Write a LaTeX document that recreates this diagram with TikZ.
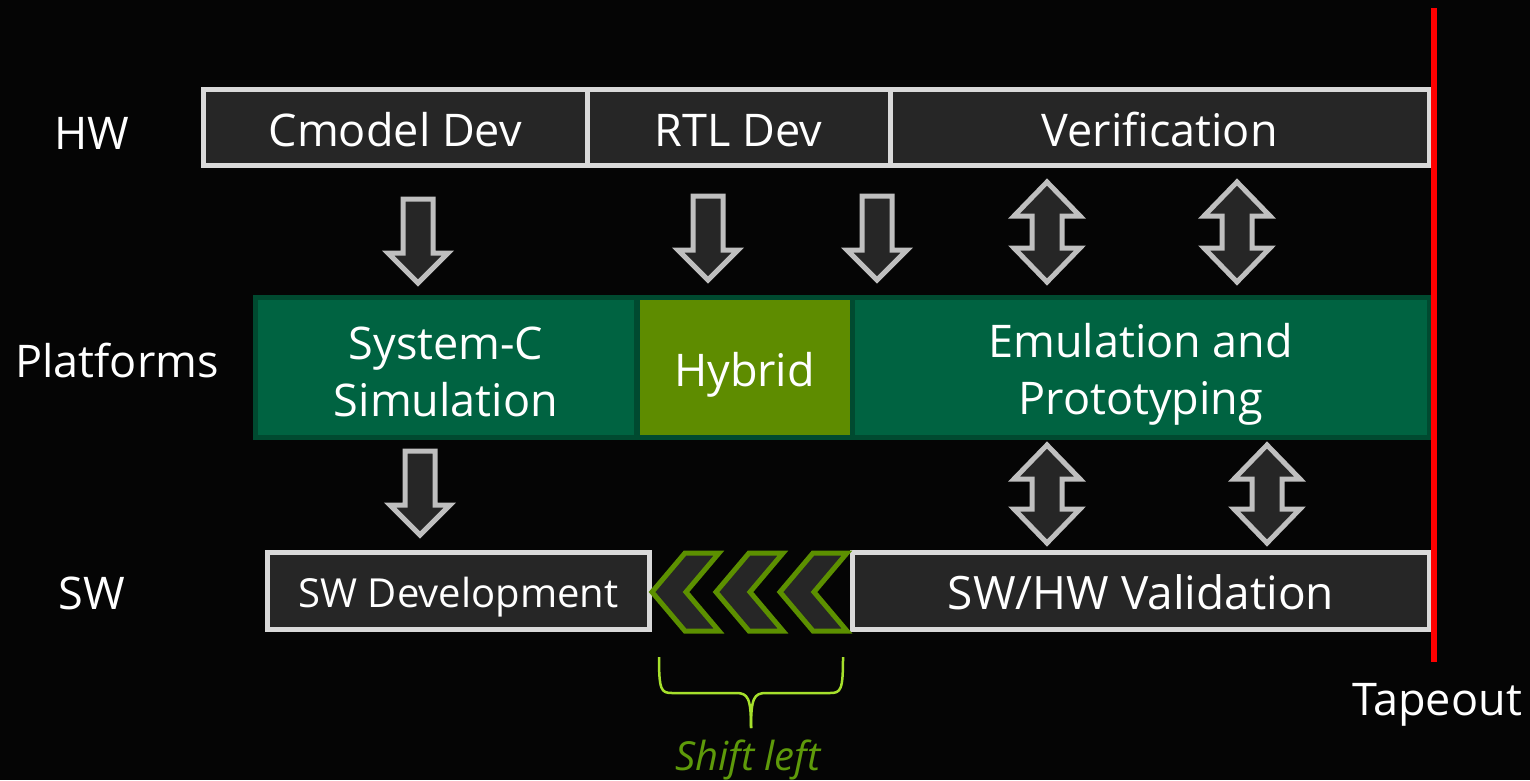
\documentclass[tikz,border=0pt]{standalone}
\usepackage{fontspec}
\setmainfont{Open Sans}
\definecolor{bgc}{HTML}{050505}
\definecolor{boxfill}{HTML}{262626}
\definecolor{boxline}{HTML}{D9D9D9}
\definecolor{arrline}{HTML}{BFBFBF}
\definecolor{platfill}{HTML}{006341}
\definecolor{platline}{HTML}{004A30}
\definecolor{hybfill}{HTML}{5E8C00}
\definecolor{chevline}{HTML}{5C9000}
\definecolor{bracec}{HTML}{A6E02C}
\definecolor{shiftc}{HTML}{5E9A0A}
\definecolor{tapered}{HTML}{FF0000}
\newcommand\bigtxt{\fontsize{45}{57}\selectfont}
\tikzset{
  lbl/.style={text=white, font=\bigtxt, inner sep=0pt},
  hwbox/.style={draw=boxline, fill=boxfill, line width=5pt, text=white, font=\bigtxt, minimum height=76pt, inner sep=0pt, text height=40pt, text depth=3pt},
  swbox/.style={hwbox, minimum height=77pt},
  platbox/.style={draw=platline, fill=platfill, line width=5pt, text=white, font=\bigtxt, minimum height=140pt, inner sep=0pt, align=center, text height=100pt, text depth=3pt},
  blk/.style={draw=arrline, fill=boxfill, line width=5pt, line join=miter},
  chev/.style={draw=chevline, fill=boxfill, line width=5pt, line join=miter},
  bracestyle/.style={draw=bracec, line width=2.5pt}
}
\newcommand\DnArrow[2]{\draw[blk, shift={(#1,#2)}] (-15,0) -- (15,0) -- (15,54) -- (30,54) -- (0,84) -- (-30,54) -- (-15,54) -- cycle;}
\newcommand\UdArrow[3]{\draw[blk, shift={(#1,#2)}] (0,0) -- (33,34) -- (15,34) -- (15,#3-34) -- (33,#3-34) -- (0,#3) -- (-33,#3-34) -- (-15,#3-34) -- (-15,34) -- (-33,34) -- cycle;}
\newcommand\Chev[2]{\draw[chev, shift={(#1,#2)}] (0,0) -- (33,-39) -- (67,-39) -- (34,0) -- (67,39) -- (33,39) -- cycle;}
\begin{document}
\begin{tikzpicture}[x=1pt, y=-1pt]
\fill[bgc] (0,0) rectangle (1530,780);
\useasboundingbox (0,0) rectangle (1530,780);

% row labels
\node[lbl] (hwl) at (92,133) {HW};
\node[lbl] (pll) at (117,360) {Platforms};
\node[lbl] (swl) at (92,593) {SW};

% HW bar
\node[hwbox, minimum width=383.5pt] (cm) at (395.25,127.5) {Cmodel Dev};
\node[hwbox, minimum width=303pt] (rtl) at (738.5,127.5) {RTL Dev};
\node[hwbox, minimum width=539.5pt] (ver) at (1159.75,127.5) {Verification};

% Platforms bar
\node[platbox, minimum width=381.5pt] (sysc) at (446,367.5) {System-C\\Simulation};
\node[platbox, fill=hybfill, minimum width=215pt, text height=40pt] (hyb) at (744.5,367.5) {Hybrid};
\node[platbox, minimum width=577.5pt, text height=96pt] (emu) at (1140.75,367.5) {Emulation and\\Prototyping};

% SW bar
\node[swbox, minimum width=382pt, font=\fontsize{40}{48}\selectfont, text height=36pt] (swd) at (458.5,591) {SW Development};
\node[swbox, minimum width=577pt, font=\fontsize{46}{55}\selectfont] (swv) at (1141,591) {SW/HW Validation};

% block arrows HW -> Platforms
\DnArrow{418}{199}
\DnArrow{708}{196}
\DnArrow{877}{196}
\UdArrow{1047}{182}{100}
\UdArrow{1237}{182}{100}

% block arrows Platforms -> SW
\DnArrow{420}{451}
\UdArrow{1047}{445}{98}
\UdArrow{1267}{445}{98}

% chevrons (shift left)
\Chev{652}{592}
\Chev{716}{592}
\Chev{780}{592}

% brace
\coordinate (bl) at (659,657);
\coordinate (br) at (843,657);
\coordinate (bt) at (751,728);
\draw[bracestyle] (bl) .. controls (659,690) and (661,693) .. (672,693) -- (736,693) .. controls (748,693) and (751,698) .. (bt);
\draw[bracestyle] (br) .. controls (843,690) and (841,693) .. (830,693) -- (766,693) .. controls (754,693) and (751,698) .. (bt);
\node[text=shiftc, font=\fontsize{40}{46}\selectfont\itshape, inner sep=0pt] (shl) at (748,760) {Shift left};

% tapeout line
\coordinate (rt) at (1434,8);
\coordinate (rb) at (1434,662);
\draw[tapered, line width=5.5pt] (rt) -- (rb);
\node[lbl] (tap) at (1437,705) {Tapeout};
\end{tikzpicture}
\end{document}
